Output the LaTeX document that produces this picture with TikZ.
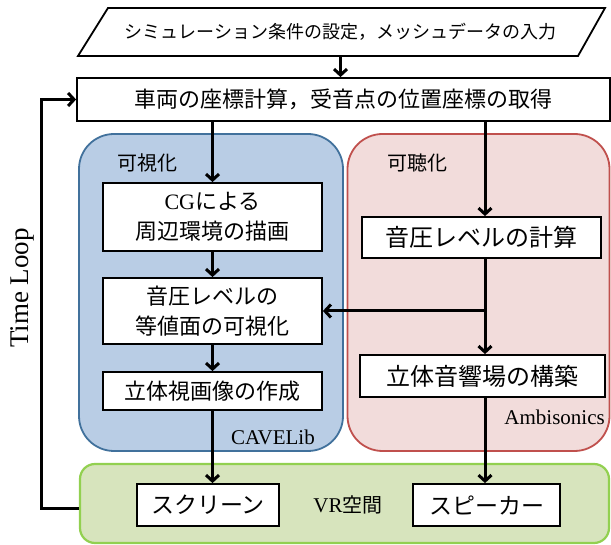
\documentclass[tikz,border=0pt]{standalone}
\usepackage{fontspec}
\setmainfont{Liberation Serif}
\newfontfamily\jp{Noto Sans CJK JP}
\usetikzlibrary{arrows.meta,calc}
\definecolor{bluefill}{HTML}{B9CDE5}
\definecolor{blueline}{HTML}{41719C}
\definecolor{redfill}{HTML}{F2DCDB}
\definecolor{redline}{HTML}{C0504D}
\definecolor{greenfill}{HTML}{D7E4BD}
\definecolor{greenline}{HTML}{92D050}
\begin{document}
\begin{tikzpicture}[x=1pt,y=-1pt,
  box/.style={draw,fill=white,line width=1.8pt,inner sep=0pt,align=center},
  group/.style={line width=1.8pt,inner sep=0pt},
  arr/.style={line width=3pt,-{Straight Barb[length=6pt,width=13pt]}},
  jpm/.style={font=\jp\fontsize{22pt}{30pt}\selectfont},
  jpl/.style={font=\jp\fontsize{24pt}{30pt}\selectfont},
  lab/.style={font=\jp\fontsize{20pt}{24pt}\selectfont,inner sep=0pt},
  ser/.style={font=\fontsize{21pt}{24pt}\selectfont,inner sep=0pt}]
\useasboundingbox (0,0) rectangle (611,545);
% groups
\node[group,fill=bluefill,draw=blueline,rounded corners=35pt,minimum width=264pt,minimum height=317pt] (vis) at (211,292.5) {};
\node[group,fill=redfill,draw=redline,rounded corners=35pt,minimum width=262pt,minimum height=317pt] (aud) at (478.5,292.5) {};
\node[group,fill=greenfill,draw=greenline,line width=2.2pt,rounded corners=15pt,minimum width=529pt,minimum height=79pt] (vr) at (344.5,503.5) {};
% input parallelogram
\coordinate (p1) at (108,8);
\coordinate (p2) at (605,8);
\coordinate (p3) at (578,56);
\coordinate (p4) at (78,56);
\draw[line width=1.8pt,fill=white] (p1) -- (p2) -- (p3) -- (p4) -- cycle;
\node[inner sep=0pt,minimum width=470pt,minimum height=48pt,font=\jp\fontsize{18pt}{20pt}\selectfont] (input) at (340.5,32) {シミュレーション条件の設定，メッシュデータの入力};
% main box
\node[box,jpm,minimum width=533pt,minimum height=43pt] (main) at (343.5,99.5) {車両の座標計算，受音点の位置座標の取得};
% visual column
\node[box,jpm,minimum width=219pt,minimum height=68pt] (cg) at (212.5,217) {{\rmfamily CG}による\\周辺環境の描画};
\node[box,jpm,minimum width=219pt,minimum height=66pt] (iso) at (212.5,311) {音圧レベルの\\等値面の可視化};
\node[box,jpm,minimum width=219pt,minimum height=38pt] (stereo) at (212.5,391) {立体視画像の作成};
% audio column
\node[box,jpl,minimum width=239pt,minimum height=41pt] (spl) at (481.5,237.5) {音圧レベルの計算};
\node[box,jpl,minimum width=245pt,minimum height=42pt] (amb) at (482.5,376) {立体音響場の構築};
% VR
\node[box,font=\jp\fontsize{23pt}{26pt}\selectfont,minimum width=142pt,minimum height=42pt] (screen) at (208,505) {スクリーン};
\node[box,font=\jp\fontsize{23pt}{26pt}\selectfont,minimum width=147pt,minimum height=42pt] (spk) at (486.5,505) {スピーカー};
\node[inner sep=0pt] (vrlab) at (348,505) {{\fontsize{21pt}{24pt}\selectfont VR}{\jp\fontsize{20pt}{24pt}\selectfont 空間}};
% labels
\node[lab] (vislab) at (147,163) {可視化};
\node[lab] (audlab) at (417,163) {可聴化};
\node[ser,anchor=east] (cave) at (315,437) {CAVELib};
\node[ser,anchor=east] (ambi) at (605,417) {Ambisonics};
\node[rotate=90,inner sep=0pt,font=\fontsize{27pt}{28pt}\selectfont] (tl) at (22,288) {Time Loop};
% connectors
\draw[arr] (input.south) -- (input.south |- main.north);
\draw[arr] (main.south -| cg.north) -- (cg.north);
\draw[arr] (cg) -- (iso);
\draw[arr] (iso) -- (stereo);
\draw[arr] (stereo.south) -- (stereo.south |- screen.north);
\coordinate (rx) at (485,0);
\draw[arr] (main.south -| rx) -- (spl.north -| rx);
\draw[arr] (spl.south -| rx) -- (amb.north -| rx);
\draw[arr] (amb.south -| rx) -- (spk.north -| rx);
\coordinate (br) at (485,311);
\draw[arr] (br) -- (iso.east);
\coordinate (lx) at (41,0);
\draw[arr] (vr.west |- 0,508) -| (lx |- main.west) -- (main.west);
\end{tikzpicture}
\end{document}
